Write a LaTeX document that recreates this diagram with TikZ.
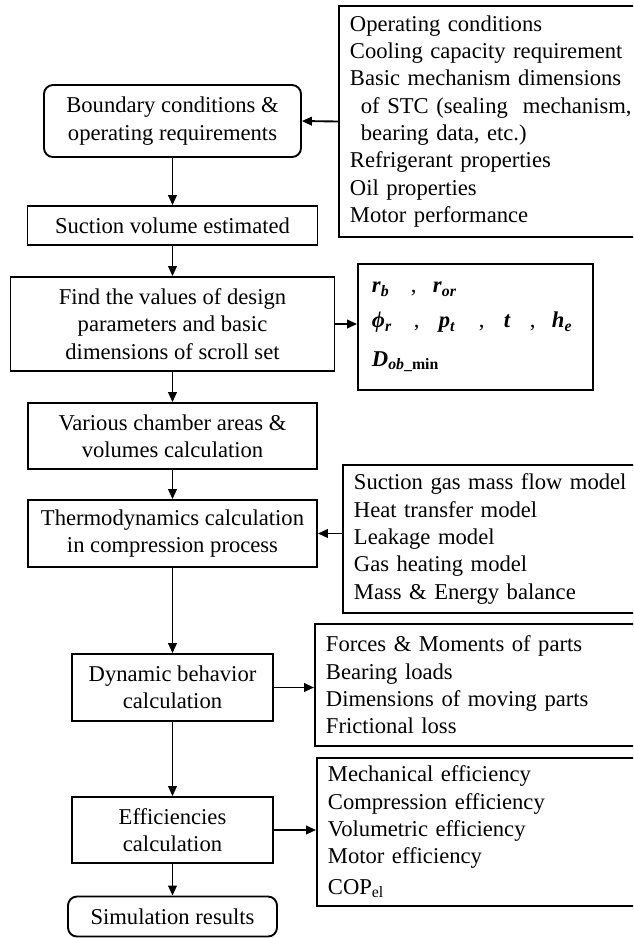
\documentclass[tikz,border=0pt]{standalone}
\usepackage{fontspec}
\setmainfont{Liberation Serif}
\usepackage{tikz}
\usetikzlibrary{arrows.meta}
\tikzset{>={Triangle[length=3mm,width=2.6mm]}}
\newcommand{\bi}[1]{\textbf{\textit{#1}}}
\newcommand{\pv}[2]{\bi{#1}\textsubscript{\bi{#2}}}

\begin{document}
\begin{tikzpicture}[x=0.03cm, y=-0.03cm, line width=1.6pt,
    every node/.style={font=\fontsize{19.3}{23.3}\selectfont},
    stepbox/.style={draw, align=center, inner sep=0pt},
    endbox/.style={stepbox, rounded corners=0.27cm},
    listbox/.style={draw, align=left, anchor=west, inner xsep=0.33cm, inner ysep=0pt, text width=9.5cm}]

    \path[use as bounding box, clip] (0,0) rectangle (633,938);

    % Main steps
    \node[endbox, minimum width=7.71cm, minimum height=2.16cm] (bound) at (172.5,121) {Boundary conditions \&\\ operating requirements};
    \node[stepbox, minimum width=8.7cm, minimum height=1.17cm] (suction) at (172.5,225.5) {Suction volume estimated};
    \node[stepbox, minimum width=9.72cm, minimum height=2.82cm] (find) at (172.5,324) {Find the values of design\\ parameters and basic\\ dimensions of scroll set};
    \node[stepbox, minimum width=8.67cm, minimum height=1.98cm] (various) at (172.5,436) {Various chamber areas \&\\ volumes calculation};
    \node[stepbox, minimum width=8.67cm, minimum height=2.01cm] (thermo) at (172.5,533.5) {Thermodynamics calculation\\ in compression process};
    \node[stepbox, minimum width=6.03cm, minimum height=2.01cm] (dynamic) at (172.5,687.5) {Dynamic behavior\\ calculation};
    \node[stepbox, minimum width=6.03cm, minimum height=1.98cm] (eff) at (172.5,830) {Efficiencies\\ calculation};
    \node[endbox, minimum width=6.27cm, minimum height=1.2cm] (sim) at (172.5,916.5) {Simulation results};

    % Side boxes
    \node[listbox, minimum height=6.93cm] (inputs) at (338,121.5) {Operating conditions\\ Cooling capacity requirement\\ Basic mechanism dimensions\\ \hspace*{0.33cm}of STC (sealing\ \ mechanism,\\ \hspace*{0.33cm}bearing data, etc.)\\ Refrigerant properties\\ Oil properties\\ Motor performance};
    \node[listbox, inner xsep=0.42cm, text width=6.21cm, minimum height=3.78cm] (params) at (357,327) {\makebox[1.17cm][l]{\pv{r}{b}}\makebox[0.66cm][l]{,}\pv{r}{or}\\[0.24cm]
        \makebox[1.26cm][l]{\pv{ϕ}{r}}\makebox[0.75cm][l]{,}\makebox[1.2cm][l]{\pv{p}{t}}\makebox[0.75cm][l]{,}\makebox[0.78cm][l]{\bi{t}}\makebox[0.66cm][l]{,}\pv{h}{e}\\[0.33cm]
        \bi{D}\textsubscript{\bi{ob}\textbf{\_min}}};
    \node[listbox, minimum height=4.44cm] (models) at (342,539) {Suction gas mass flow model\\ Heat transfer model\\ Leakage model\\ Gas heating model\\ Mass \& Energy balance};
    \node[listbox, minimum height=3.66cm] (forces) at (314,685) {Forces \& Moments of parts\\ Bearing loads\\ Dimensions of moving parts\\ Frictional loss};
    \node[listbox, minimum height=4.44cm] (effs) at (316,832) {Mechanical efficiency\\ Compression efficiency\\ Volumetric efficiency\\ Motor efficiency\\[0.09cm] COP\textsubscript{el}};

    % Arrows down the main column
    \draw[->] (bound.south) -- (suction.north);
    \draw[->] (suction.south) -- (find.north);
    \draw[->] (find.south) -- (various.north);
    \draw[->] (various.south) -- (thermo.north);
    \draw[->] (thermo.south) -- (dynamic.north);
    \draw[->] (dynamic.south) -- (eff.north);
    \draw[->] (eff.south) -- (sim.north);

    % Arrows to and from the side boxes
    \draw[->] (inputs.west) -- (bound.east);
    \draw[->] (find.east) -- (find.east -| params.west);
    \draw[->] (models.west |- thermo.east) -- (thermo.east);
    \draw[->] (dynamic.east) -- (dynamic.east -| forces.west);
    \draw[->] (eff.east) -- (eff.east -| effs.west);

\end{tikzpicture}
\end{document}
